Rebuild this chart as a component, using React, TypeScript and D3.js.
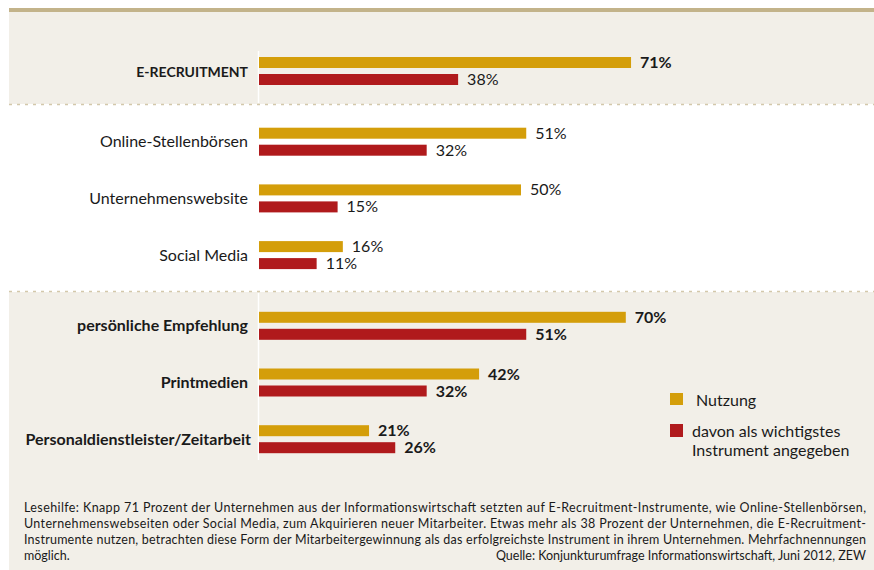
import React from "react";
import * as d3 from "d3";

const categories = [
  "E-RECRUITMENT",
  "Online-Stellenbörsen",
  "Unternehmenswebsite",
  "Social Media",
  "persönliche Empfehlung",
  "Printmedien",
  "Personaldienstleister/Zeitarbeit",
];
const sections = [0, 1, 1, 1, 2, 2, 2];
const boldLabel = [true, false, false, false, true, true, true];
const nutzung = [71, 51, 50, 16, 70, 42, 21];
const wichtigstes = [38, 32, 15, 11, 51, 32, 26];
const boldNutzung = [true, false, false, false, true, true, true];
const boldWichtigstes = [false, false, false, false, true, true, true];

const legendLabels = ["Nutzung", "davon als wichtigstes", "Instrument angegeben"];

const noteLines = [
  "Lesehilfe: Knapp 71 Prozent der Unternehmen aus der Informationswirtschaft setzten auf E-Recruitment-Instrumente, wie Online-Stellenbörsen,",
  "Unternehmenswebseiten oder Social Media, zum Akquirieren neuer Mitarbeiter. Etwas mehr als 38 Prozent der Unternehmen, die E-Recruitment-",
  "Instrumente nutzen, betrachten diese Form der Mitarbeitergewinnung als das erfolgreichste Instrument in ihrem Unternehmen. Mehrfachnennungen",
  "möglich.",
];
const sourceText = "Quelle: Konjunkturumfrage Informationswirtschaft, Juni 2012, ZEW";

const W = 874;
const H = 570;
const YELLOW = "#d49e0a";
const RED = "#b01a1c";
const BEIGE = "#f2efe8";
const TAN = "#c3b38a";
const DOT = "#d3c8aa";
const TEXT = "#1a1a1a";
const FONT = "Lato, 'Open Sans', sans-serif";

export default function App() {
  const x = d3.scaleLinear().domain([0, 100]).range([259, 783]);
  const yIdx = d3.scaleLinear().domain([0, 6]).range([57, 57 + 6 * 56.7]);
  const sectionGap = 14;
  const barH = 11;
  const redOff = 17;
  const yTop = (i: number) => yIdx(i) + sections[i] * sectionGap;

  return (
    <svg
      width={W}
      height={H}
      style={{ position: "fixed", left: 0, top: 0, fontFamily: FONT }}
    >
      <rect x={0} y={0} width={W} height={H} fill="#ffffff" />
      {/* top bar */}
      <rect x={9} y={8} width={W - 9} height={4} fill={TAN} />
      {/* beige panels */}
      <rect x={9} y={12} width={W - 9} height={92} fill={BEIGE} />
      <rect x={9} y={292} width={W - 9} height={H - 292} fill={BEIGE} />
      <line x1={9} x2={W} y1={104.5} y2={104.5} stroke={DOT} strokeWidth={1.5} strokeDasharray="3,5" />
      <line x1={9} x2={W} y1={291.5} y2={291.5} stroke={DOT} strokeWidth={1.5} strokeDasharray="3,5" />
      {/* axis lines */}
      <line x1={x(0) - 0.5} x2={x(0) - 0.5} y1={51} y2={103} stroke="#ffffff" strokeWidth={1.5} />
      <line x1={x(0) - 0.5} x2={x(0) - 0.5} y1={293} y2={460} stroke="#ffffff" strokeWidth={1.5} />

      {categories.map((c, i) => {
        const t = yTop(i);
        return (
          <g key={c}>
            <text
              x={i === 6 ? 251 : 248}
              y={t + 19.5}
              textAnchor="end"
              fontSize={i === 0 ? 14 : 16}
              fontWeight={boldLabel[i] ? 700 : 400}
              fill={TEXT}
            >
              {c}
            </text>
            <rect x={x(0)} y={t} width={x(nutzung[i]) - x(0)} height={barH} fill={YELLOW} />
            <rect x={x(0)} y={t + redOff} width={x(wichtigstes[i]) - x(0)} height={barH} fill={RED} />
            <text
              x={x(nutzung[i]) + 9}
              y={t + 11}
              fontSize={16}
              fontWeight={boldNutzung[i] ? 700 : 400}
              fill={TEXT}
            >
              {nutzung[i]}%
            </text>
            <text
              x={x(wichtigstes[i]) + 9}
              y={t + redOff + 11}
              fontSize={16}
              fontWeight={boldWichtigstes[i] ? 700 : 400}
              fill={TEXT}
            >
              {wichtigstes[i]}%
            </text>
          </g>
        );
      })}

      {/* legend */}
      <rect x={670} y={393} width={13} height={12} fill={YELLOW} />
      <text x={696} y={405.5} fontSize={16} fill={TEXT}>{legendLabels[0]}</text>
      <rect x={670} y={424} width={13} height={13} fill={RED} />
      <text x={692} y={436.5} fontSize={16} fill={TEXT}>{legendLabels[1]}</text>
      <text x={692} y={455.5} fontSize={16} fill={TEXT}>{legendLabels[2]}</text>

      {/* footnote */}
      {noteLines.map((l, i) => (
        <text
          key={i}
          x={24}
          y={512 + i * 16}
          fontSize={12.5}
          fill={TEXT}
          textLength={i < 3 ? 842 : undefined}
          lengthAdjust={i < 3 ? "spacing" : undefined}
        >
          {l}
        </text>
      ))}
      <text x={866} y={560} fontSize={12.5} fill={TEXT} textAnchor="end">
        {sourceText}
      </text>
    </svg>
  );
}
